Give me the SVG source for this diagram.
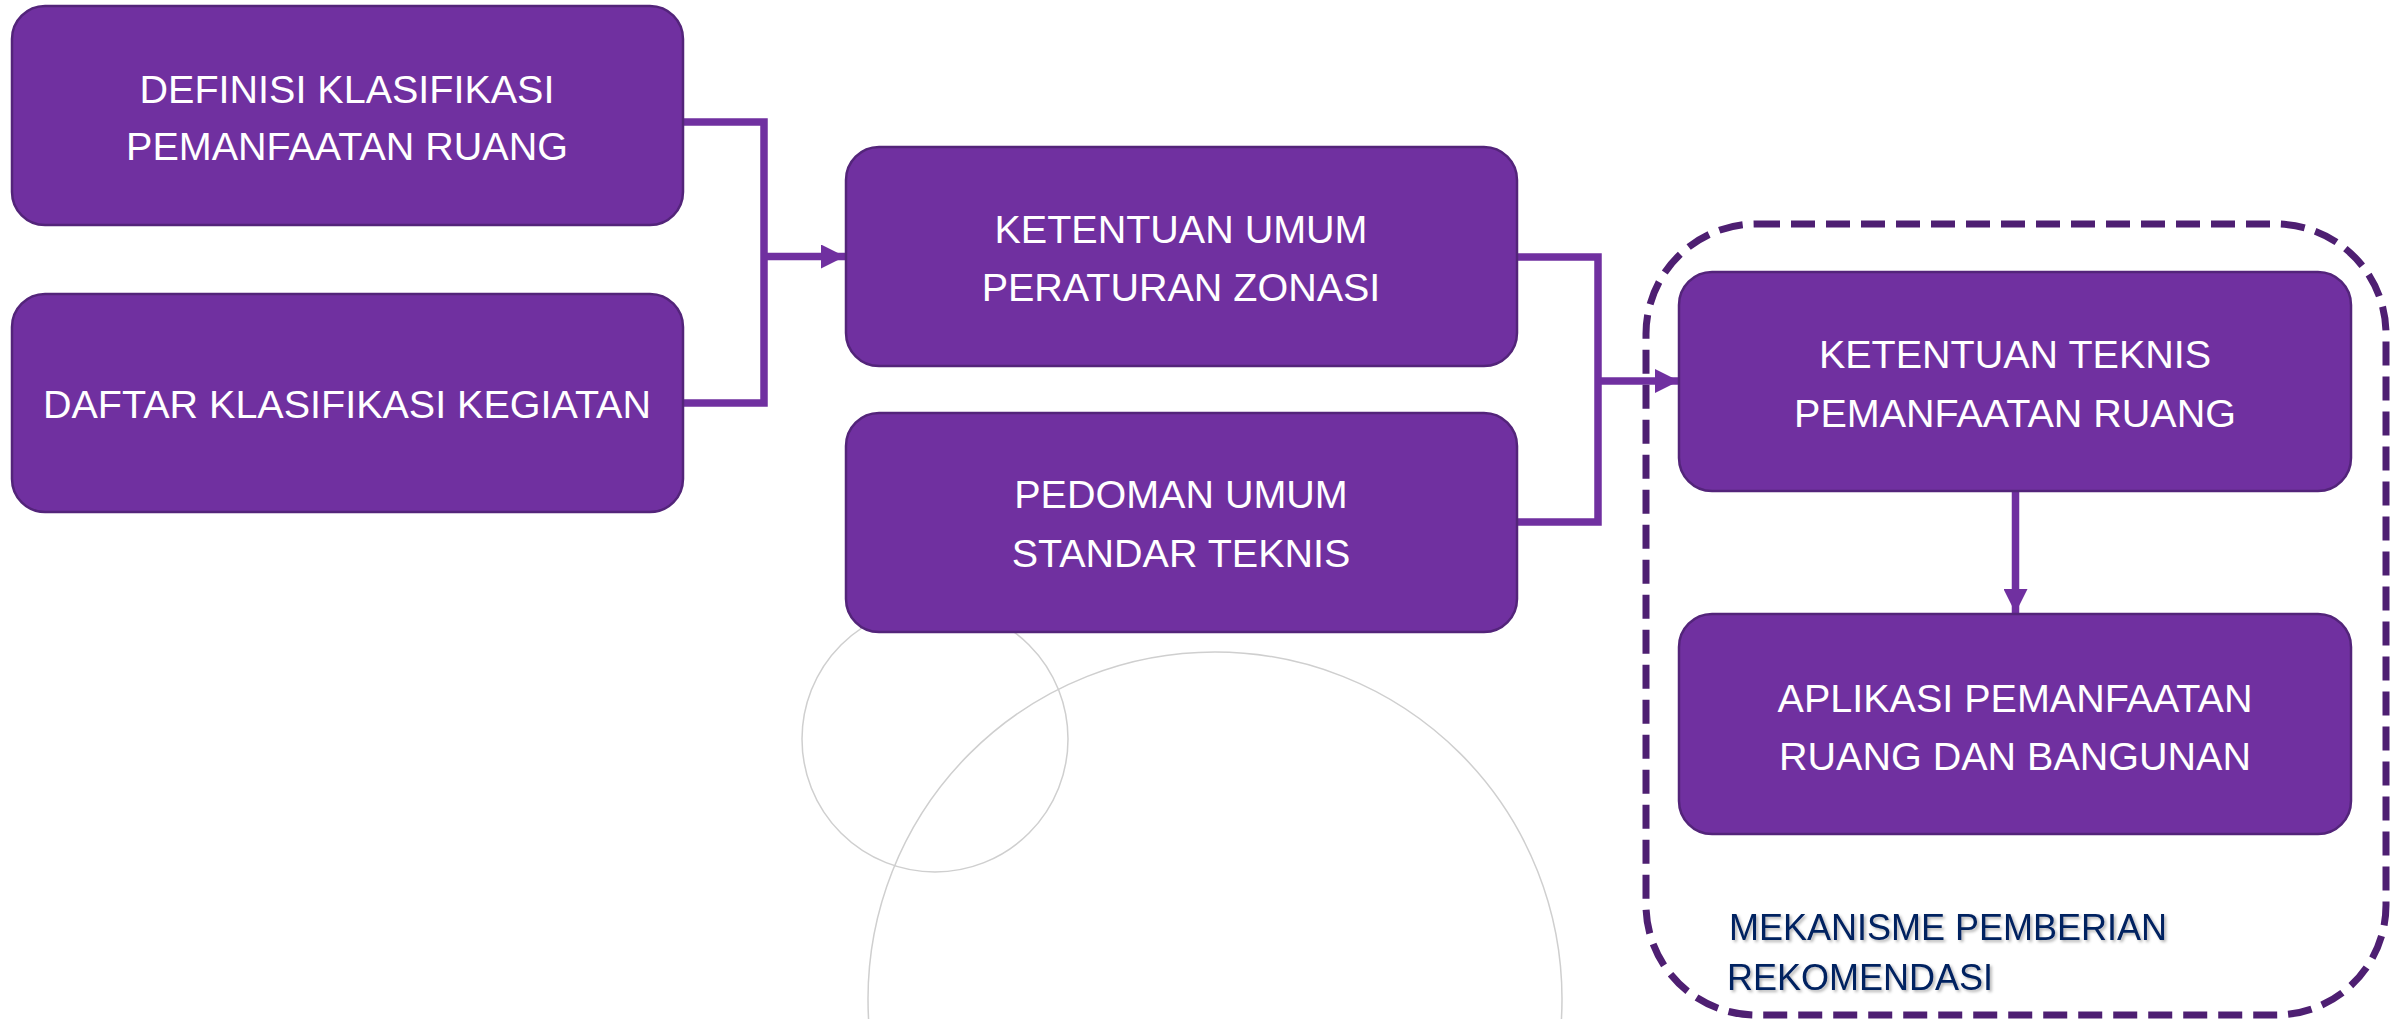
<svg xmlns="http://www.w3.org/2000/svg" width="2404" height="1019" viewBox="0 0 2404 1019">
  <defs>
    <style>
      .box { fill: #7030A0; stroke: #53247A; stroke-width: 2.5; }
      .bt { font-family: "Liberation Sans", Arial, sans-serif; font-size: 39.5px; fill: #FFFFFF; text-anchor: middle; }
      .conn { fill: none; stroke: #7030A0; stroke-width: 7.5; stroke-linejoin: miter; }
      .deco { fill: none; stroke: #CFCFCF; stroke-width: 1.5; }
      .group { fill: none; stroke: #4E1F72; stroke-width: 7; stroke-dasharray: 24 11; }
      .lbl { font-family: "Liberation Sans", Arial, sans-serif; font-size: 36px; fill: #002060; }
    </style>
    <marker id="ah" markerUnits="userSpaceOnUse" markerWidth="24" markerHeight="24" viewBox="0 0 24 24" refX="24" refY="12" orient="auto">
      <path d="M0,0 L24,12 L0,24 Z" fill="#7030A0"/>
    </marker>
    <filter id="sh" x="-5%" y="-20%" width="110%" height="140%">
      <feDropShadow dx="2" dy="2" stdDeviation="1.5" flood-color="#000000" flood-opacity="0.3"/>
    </filter>
  </defs>

  <rect width="2404" height="1019" fill="#FFFFFF"/>

  <g id="decoration">
    <circle class="deco" cx="935" cy="739" r="133"/>
    <circle class="deco" cx="1215" cy="999" r="347"/>
  </g>

  <g id="connectors">
    <polyline class="conn" points="683,122 764,122 764,403 683,403"/>
    <line class="conn" x1="764" y1="256.5" x2="845" y2="256.5" marker-end="url(#ah)"/>
    <polyline class="conn" points="1517,257 1598,257 1598,522 1517,522"/>
    <line class="conn" x1="1598" y1="381" x2="1679" y2="381" marker-end="url(#ah)"/>
    <line class="conn" x1="2015.5" y1="491" x2="2015.5" y2="613" marker-end="url(#ah)"/>
  </g>

  <g id="mekanisme">
    <rect class="group" x="1646" y="224" width="740" height="791" rx="110" ry="110"/>
    <text class="lbl" filter="url(#sh)"><tspan x="1729" y="940">MEKANISME PEMBERIAN</tspan><tspan x="1727" y="990">REKOMENDASI</tspan></text>
  </g>

  <g id="definisi">
    <rect class="box" x="12" y="6" width="671" height="219" rx="33" ry="33"/>
    <text class="bt"><tspan x="347" y="103">DEFINISI KLASIFIKASI</tspan><tspan x="347" y="160">PEMANFAATAN RUANG</tspan></text>
  </g>

  <g id="daftar">
    <rect class="box" x="12" y="294" width="671" height="218" rx="33" ry="33"/>
    <text class="bt" x="347" y="418">DAFTAR KLASIFIKASI KEGIATAN</text>
  </g>

  <g id="ketentuan-umum">
    <rect class="box" x="846" y="147" width="671" height="219" rx="33" ry="33"/>
    <text class="bt"><tspan x="1181" y="243">KETENTUAN UMUM</tspan><tspan x="1181" y="301">PERATURAN ZONASI</tspan></text>
  </g>

  <g id="pedoman">
    <rect class="box" x="846" y="413" width="671" height="219" rx="33" ry="33"/>
    <text class="bt"><tspan x="1181" y="508">PEDOMAN UMUM</tspan><tspan x="1181" y="567">STANDAR TEKNIS</tspan></text>
  </g>

  <g id="ketentuan-teknis">
    <rect class="box" x="1679" y="272" width="672" height="219" rx="33" ry="33"/>
    <text class="bt"><tspan x="2015" y="368">KETENTUAN TEKNIS</tspan><tspan x="2015" y="427">PEMANFAATAN RUANG</tspan></text>
  </g>

  <g id="aplikasi">
    <rect class="box" x="1679" y="614" width="672" height="220" rx="33" ry="33"/>
    <text class="bt"><tspan x="2015" y="712">APLIKASI PEMANFAATAN</tspan><tspan x="2015" y="770">RUANG DAN BANGUNAN</tspan></text>
  </g>
</svg>
